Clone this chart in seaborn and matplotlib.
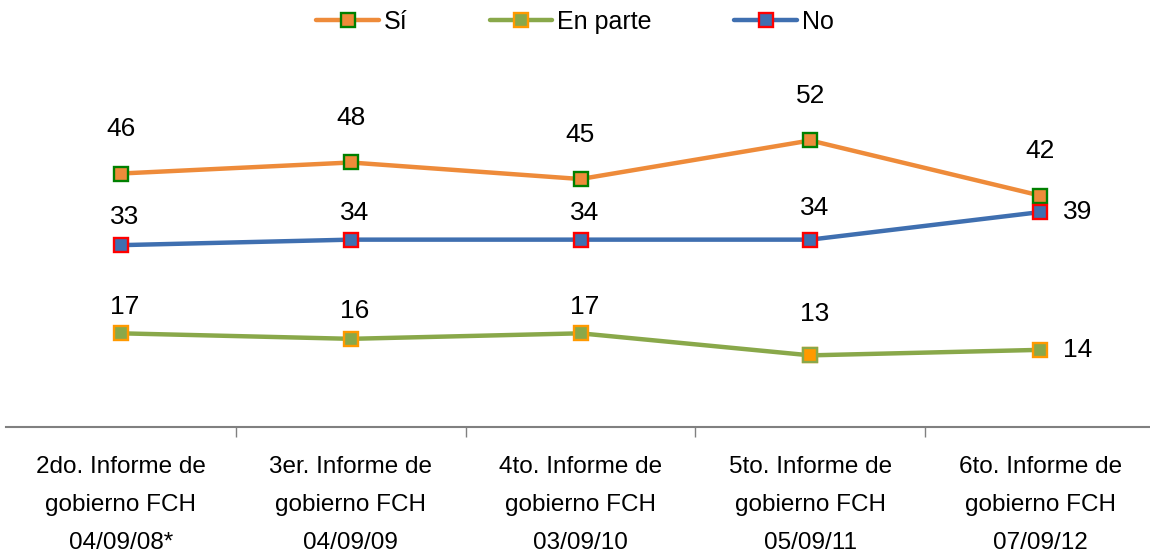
import matplotlib
matplotlib.use("Agg")
import matplotlib.pyplot as plt
import seaborn as sns
import pandas as pd
from matplotlib.ticker import FixedLocator

# Datos del gráfico
categorias = [
    "2do. Informe de\ngobierno FCH\n04/09/08*",
    "3er. Informe de\ngobierno FCH\n04/09/09",
    "4to. Informe de\ngobierno FCH\n03/09/10",
    "5to. Informe de\ngobierno FCH\n05/09/11",
    "6to. Informe de\ngobierno FCH\n07/09/12",
]
si = [46, 48, 45, 52, 42]
en_parte = [17, 16, 17, 13, 14]
no = [33, 34, 34, 34, 39]

series = [
    # nombre, valores, color linea, borde marcador, relleno marcador
    ("Sí", si, "#EE8B3A", "#008000", "#EE8B3A"),
    ("En parte", en_parte, "#89A84A", "#FF9900", "#89A84A"),
    ("No", no, "#3F6FB0", "#FF0000", "#3F6FB0"),
]

# desplazamientos de etiquetas (puntos): arriba por defecto, a la derecha en el último
offset_arriba = {"Sí": [32, 32, 32, 32, 32], "En parte": [19, 20, 19, 30, None], "No": [20, 19, 19, 23, None]}

sns.set_style("white")
plt.rcParams["font.family"] = ["Liberation Sans", "DejaVu Sans"]
plt.rcParams["text.color"] = "black"
plt.rcParams["xtick.color"] = "black"

fig = plt.figure(figsize=(11.5, 5.54), dpi=100)
ax = fig.add_axes([6 / 1150, 127 / 554, 1149 / 1150, 367 / 554])

for nombre, valores, color, borde, relleno in series:
    df = pd.DataFrame({"x": range(len(valores)), "y": valores})
    sns.lineplot(data=df, x="x", y="y", ax=ax, color=color, linewidth=3.2,
                 marker="s", markersize=9.5, markeredgecolor=borde,
                 markerfacecolor=relleno, markeredgewidth=1.7, label=nombre)
    for i, v in enumerate(valores):
        dy = offset_arriba[nombre][i]
        if dy is None:
            ax.annotate(str(v), (i, v), xytext=(27, 0), textcoords="offset points",
                        ha="center", va="center", fontsize=19, color="black")
        else:
            ax.annotate(str(v), (i, v), xytext=(3 if nombre != "Sí" else 0, dy),
                        textcoords="offset points", ha="center", va="center",
                        fontsize=19, color="black")

# marcador con colores invertidos en "En parte" (5to. informe)
ax.plot([3], [en_parte[3]], linestyle="none", marker="s", markersize=9.5,
        markerfacecolor="#FF9900", markeredgecolor="#89A84A", markeredgewidth=1.7)

ax.set_xlim(-0.5, len(categorias) - 0.5)
ax.set_ylim(0, 66.6)
ax.set_xlabel("")
ax.set_ylabel("")
ax.set_yticks([])
ax.set_xticks(range(len(categorias)))
ax.set_xticklabels(categorias, fontsize=17.5, linespacing=1.95, color="black")
ax.tick_params(axis="x", which="major", length=0, pad=21)
ax.xaxis.set_minor_locator(FixedLocator([i + 0.5 for i in range(len(categorias) - 1)]))
ax.tick_params(axis="x", which="minor", bottom=True, length=7, width=1,
               color="#808080", direction="out")

for s in ["top", "right", "left"]:
    ax.spines[s].set_visible(False)
ax.spines["bottom"].set_color("#808080")
ax.spines["bottom"].set_linewidth(1.5)

ax.legend(loc="upper center", bbox_to_anchor=(0.5, 1.0), bbox_transform=fig.transFigure,
          ncol=3, frameon=False, fontsize=18, handlelength=2.5, handletextpad=0.2,
          columnspacing=3.3, borderaxespad=0, labelcolor="black")

fig.savefig("out.png", dpi=100)
